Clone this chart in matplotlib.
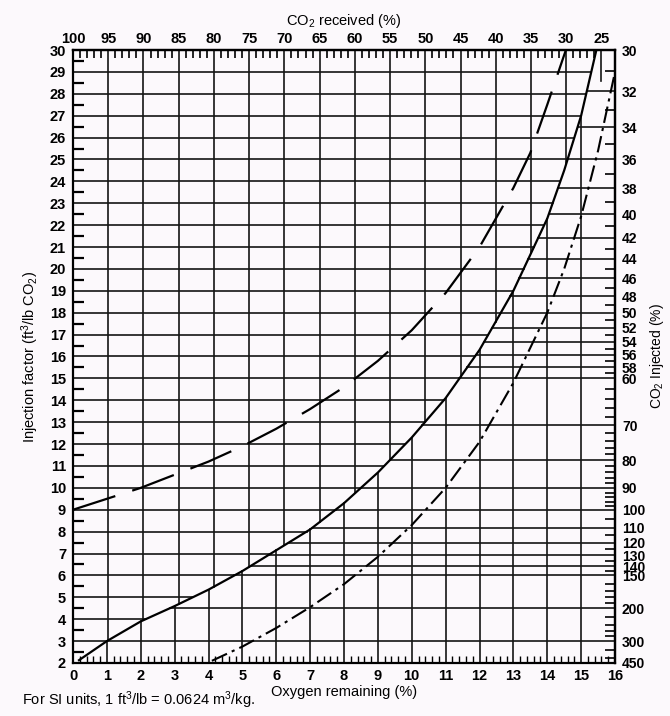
import numpy as np
import matplotlib
matplotlib.use("Agg")
import matplotlib.pyplot as plt
from matplotlib.ticker import FixedLocator, NullFormatter

plt.rcParams['font.family'] = ['Liberation Sans', 'DejaVu Sans']
plt.rcParams['mathtext.default'] = 'regular'

# ---------------- data ----------------
o2_ticks = list(range(0, 17))
factor_ticks = list(range(2, 31))
received_ticks = [100, 95, 90, 85, 80, 75, 70, 65, 60, 55, 50, 45, 40, 35, 30, 25]
injected_ticks = [30, 32, 34, 36, 38, 40, 42, 44, 46, 48, 50, 52, 54, 56, 58, 60,
                  70, 80, 90, 100, 110, 120, 130, 140, 150, 200, 300, 450]
injected_minor = ([31, 33, 35, 37, 39, 41, 43, 45, 47, 49, 51, 53, 55, 57, 59,
                   62, 64, 66, 68, 72, 74, 76, 78, 82, 84, 86, 88, 92, 94, 96, 98,
                   105, 115, 125, 135, 145, 160, 170, 180, 190,
                   220, 240, 260, 280, 350, 400])

# curves: oxygen remaining (%) vs injection factor
solid_x = [0.15, 1, 2, 3, 4, 5, 6, 7, 8, 9, 10, 11, 12, 13, 14, 14.5, 15, 15.45]
solid_y = [2.1, 3.0, 3.9, 4.6, 5.35, 6.2, 7.15, 8.1, 9.3, 10.7, 12.3, 14.1,
           16.3, 19.0, 22.3, 24.5, 27.0, 30.0]

dashed_x = [0, 1, 2, 3, 4, 5, 6, 7, 8, 9, 10, 11, 12, 13, 13.5, 14, 14.55]
dashed_y = [9.0, 9.5, 10.0, 10.6, 11.2, 11.9, 12.7, 13.6, 14.6, 15.8, 17.2,
            18.9, 21.0, 23.7, 25.3, 27.5, 30.0]

dashdot_x = [4.1, 5, 6, 7, 8, 9, 10, 11, 12, 13, 14, 14.5, 15, 15.5, 16]
dashdot_y = [2.1, 2.75, 3.6, 4.55, 5.6, 6.85, 8.3, 10.0, 12.1, 14.8, 18.0,
             20.0, 22.4, 25.4, 29.0]

O2_AIR = 20.8          # oxygen in air (%): CO2 received scale
INJ_CONST = 900.0      # CO2 injected (%) = 900 / injection factor
STUB_BOTTOM = 28.6     # short line under "25" on the received scale

# ---------------- figure ----------------
BG = '#fcf9fc'
fig = plt.figure(figsize=(6.70, 7.16), dpi=100, facecolor=BG)
ax = fig.add_axes([73/670, 53/716, 542/670, 613/716], facecolor=BG)
ax.set_xlim(0, 16)
ax.set_ylim(2, 30)

GRID_C = '#151515'
GRID_LW = 1.2

def x_on_solid(y):
    return np.interp(y, solid_y, solid_x)

def y_on_solid(x):
    return np.interp(x, solid_x, solid_y)

# upper-left grid: injection factor (horizontal) & CO2 received (vertical)
for f in factor_ticks[1:-1]:
    ax.plot([0, x_on_solid(f)], [f, f], color=GRID_C, lw=GRID_LW, zorder=1)
for c in received_ticks[1:]:
    xc = O2_AIR * (1 - c / 100)
    if xc < solid_x[-1]:
        ax.plot([xc, xc], [y_on_solid(xc), 30], color=GRID_C, lw=GRID_LW, zorder=1)
    else:
        ax.plot([xc, xc], [STUB_BOTTOM, 30], color=GRID_C, lw=GRID_LW, zorder=1)

# lower-right grid: CO2 injected (horizontal) & oxygen remaining (vertical)
for v in injected_ticks[1:-1]:
    f = INJ_CONST / v
    ax.plot([x_on_solid(f), 16], [f, f], color=GRID_C, lw=GRID_LW, zorder=1)
for o in o2_ticks[1:-1]:
    ax.plot([o, o], [2, y_on_solid(o)], color=GRID_C, lw=GRID_LW, zorder=1)

# curves
ax.plot(solid_x, solid_y, color='black', lw=1.6, zorder=3, solid_capstyle='butt')
ax.plot(dashed_x, dashed_y, color='black', lw=1.6, dashes=(20, 8), zorder=3)
ax.plot(dashdot_x, dashdot_y, color='black', lw=1.5, dashes=(8, 2.5, 1.5, 2.5), zorder=3)

# ---------------- axes / ticks ----------------
for s in ax.spines.values():
    s.set_linewidth(1.6)
    s.set_color('black')

TICK_FS = 10.5
ax.set_xticks(o2_ticks)
ax.set_xticklabels([str(v) for v in o2_ticks])
ax.xaxis.set_minor_locator(FixedLocator(
    [round(v, 1) for v in np.arange(0, 16, 0.2) if abs(v - round(v)) > 1e-6]))
ax.set_yticks(factor_ticks)
ax.set_yticklabels([str(v) for v in factor_ticks])
ax.yaxis.set_minor_locator(FixedLocator([v + 0.5 for v in factor_ticks[:-1]]))
ax.tick_params(axis='x', which='major', length=0, pad=4, labelsize=TICK_FS)
ax.tick_params(axis='x', which='minor', direction='in', length=5, width=1.0,
               top=False, bottom=True)
ax.tick_params(axis='y', which='major', length=0, pad=5, labelsize=TICK_FS)
ax.tick_params(axis='y', which='minor', direction='in', length=8, width=1.6,
               left=True, right=False)
for lab in ax.get_xticklabels() + ax.get_yticklabels():
    lab.set_fontweight('bold')

ax.set_xlabel('Oxygen remaining (%)', fontsize=10.5, labelpad=2)
ax.set_ylabel('Injection factor (ft$^3$/lb CO$_2$)', fontsize=10.5, labelpad=6)


def o2_to_rec(x):
    return 100 * (1 - np.asarray(x, float) / O2_AIR)


def rec_to_o2(c):
    return O2_AIR * (1 - np.asarray(c, float) / 100)


def f_to_inj(f):
    with np.errstate(divide='ignore', invalid='ignore'):
        return INJ_CONST / np.asarray(f, float)


secx = ax.secondary_xaxis('top', functions=(o2_to_rec, rec_to_o2))
secx.set_xticks(received_ticks)
secx.set_xticklabels([str(v) for v in received_ticks])
secx.xaxis.set_minor_locator(FixedLocator([c for c in range(26, 100) if c % 5]))
secx.xaxis.set_minor_formatter(NullFormatter())
secx.tick_params(which='major', length=0, pad=3, labelsize=TICK_FS)
secx.tick_params(which='minor', direction='in', length=6, width=1.2)
secx.spines['top'].set_linewidth(1.6)
secx.set_xlabel('CO$_2$ received (%)', fontsize=10.5, labelpad=5)
for lab in secx.get_xticklabels():
    lab.set_fontweight('bold')

secy = ax.secondary_yaxis('right', functions=(f_to_inj, f_to_inj))
secy.set_yticks(injected_ticks)
secy.set_yticklabels([str(v) for v in injected_ticks])
secy.yaxis.set_minor_locator(FixedLocator(injected_minor))
secy.yaxis.set_minor_formatter(NullFormatter())
secy.tick_params(which='major', length=0, pad=5, labelsize=10)
secy.tick_params(which='minor', direction='in', length=7, width=1.2)
secy.spines['right'].set_linewidth(1.6)
secy.set_ylabel('CO$_2$ Injected (%)', fontsize=10, labelpad=2)
for lab in secy.get_yticklabels():
    lab.set_fontweight('bold')

fig.text(22/670, 1 - 700/716, 'For SI units, 1 ft$^3$/lb = 0.0624 m$^3$/kg.',
         fontsize=10.5, ha='left', va='center')

fig.savefig('out.png', dpi=100, facecolor=BG)
